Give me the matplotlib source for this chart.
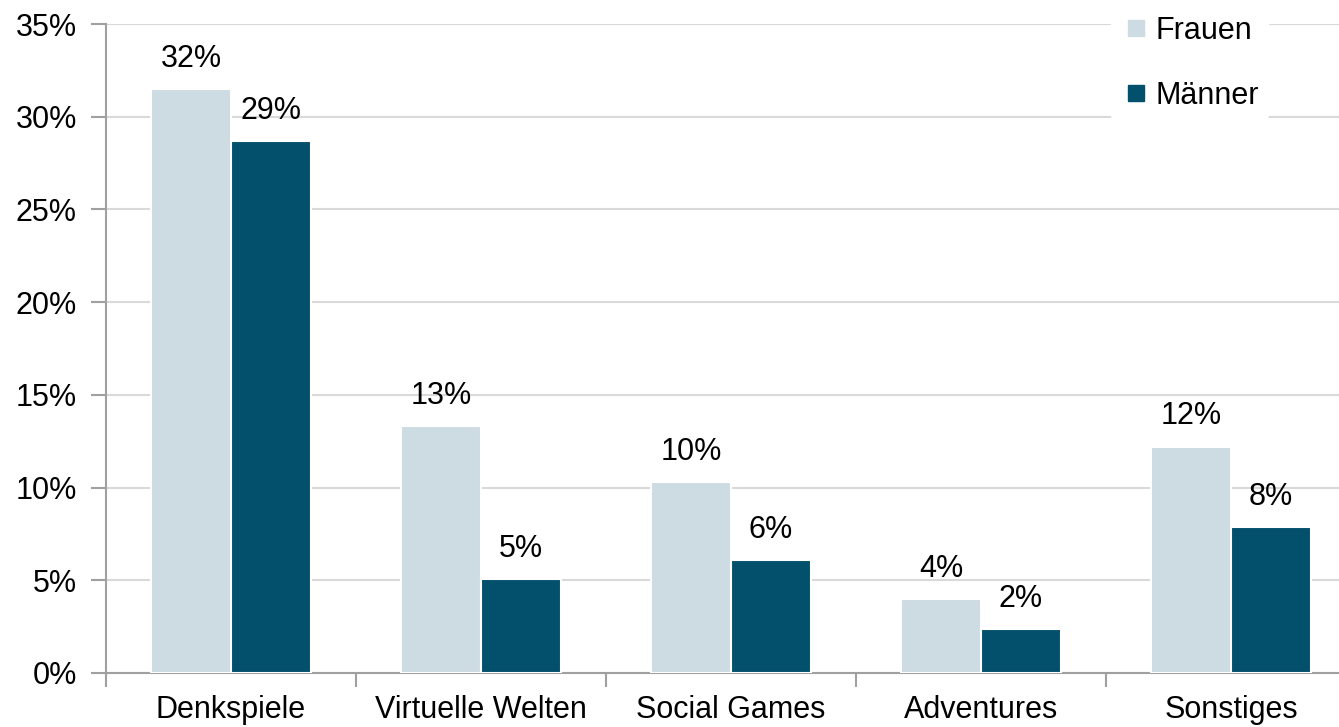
import numpy as np
import matplotlib.pyplot as plt
from matplotlib.lines import Line2D

plt.rcParams['font.family'] = ['Liberation Sans', 'DejaVu Sans']

categories = ["Denkspiele", "Virtuelle Welten", "Social Games", "Adventures", "Sonstiges"]
frauen = [31.5, 13.3, 10.3, 4.0, 12.2]
maenner = [28.7, 5.05, 6.1, 2.35, 7.85]
frauen_labels = ["32%", "13%", "10%", "4%", "12%"]
maenner_labels = ["29%", "5%", "6%", "2%", "8%"]

c_fr = "#cddbe2"
c_ma = "#03506d"

fig = plt.figure(figsize=(13.39, 7.27), dpi=100)
ax = fig.add_axes([106 / 1339, 1 - 673 / 727, 1 - 106 / 1339, (673 - 24) / 727])

x = np.arange(len(categories))
w = 0.32
b1 = ax.bar(x - w / 2, frauen, w, color=c_fr, edgecolor="white", linewidth=1.5, zorder=3)
b2 = ax.bar(x + w / 2, maenner, w, color=c_ma, edgecolor="white", linewidth=1.5, zorder=3)

for rect, lab in zip(b1, frauen_labels):
    ax.annotate(lab, (rect.get_x() + rect.get_width() / 2, rect.get_height()),
                xytext=(0, 11), textcoords="offset points", ha="center", va="bottom", fontsize=22)
for rect, lab in zip(b2, maenner_labels):
    ax.annotate(lab, (rect.get_x() + rect.get_width() / 2, rect.get_height()),
                xytext=(0, 11), textcoords="offset points", ha="center", va="bottom", fontsize=22)

# category width ~250 px, last category runs past the right edge
ax.set_xlim(-0.5, -0.5 + 1233 / 250)
ax.set_ylim(0, 35)
ax.set_yticks(range(0, 36, 5))
ax.set_yticklabels([f"{v}%" for v in range(0, 36, 5)], fontsize=22)
ax.set_xticks(x)
ax.set_xticklabels(categories, fontsize=22)
ax.set_xticks(np.arange(-0.5, len(categories) - 0.5, 1), minor=True)
ax.tick_params(axis="x", which="major", length=0, pad=16)
ax.tick_params(axis="x", which="minor", length=10, color="#a0a0a0", width=1.5)
ax.tick_params(axis="y", length=11, color="#a0a0a0", width=1.5, pad=10)

ax.grid(axis="y", color="#d9d9d9", linewidth=1.5, zorder=0)
for s in ["top", "right"]:
    ax.spines[s].set_visible(False)
for s in ["left", "bottom"]:
    ax.spines[s].set_color("#a0a0a0")
    ax.spines[s].set_linewidth(1.5)

handles = [Line2D([], [], marker="s", linestyle="none", markersize=11, color=c_fr),
           Line2D([], [], marker="s", linestyle="none", markersize=11, color=c_ma)]
leg = ax.legend(handles, ["Frauen", "Männer"], loc="upper right", bbox_to_anchor=(0.955, 1.05),
                frameon=True, fontsize=22, labelspacing=1.15, handletextpad=0.15,
                handlelength=1.0, borderpad=0.3)
leg.get_frame().set_edgecolor("white")
leg.get_frame().set_facecolor("white")
leg.get_frame().set_alpha(1)
leg.set_zorder(5)

fig.savefig("out.png", dpi=100)
